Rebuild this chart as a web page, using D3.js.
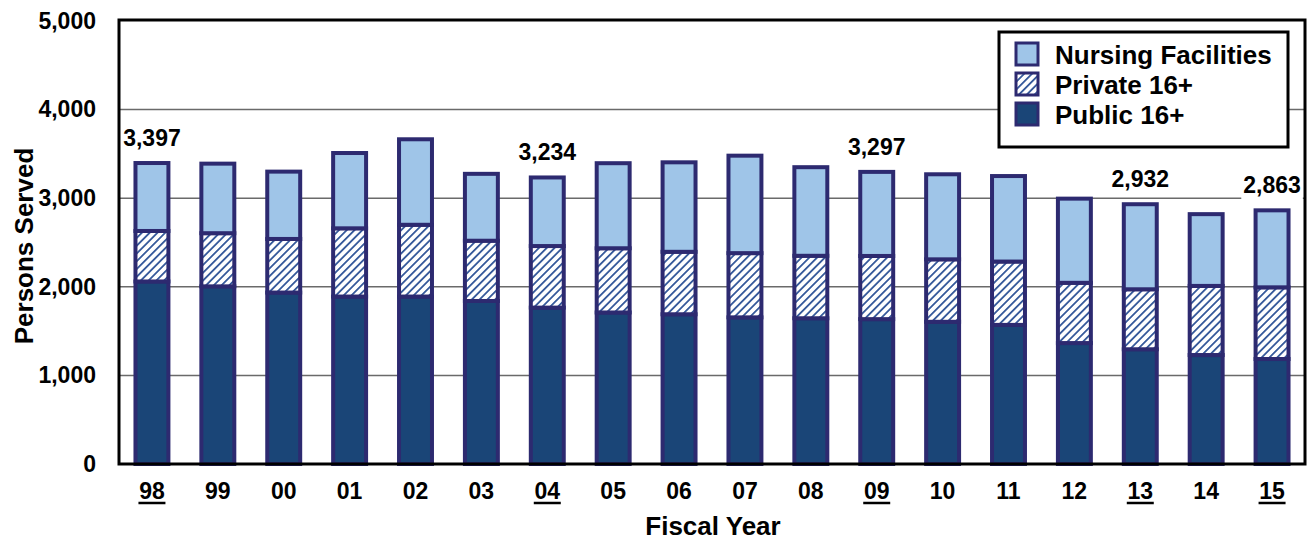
<!DOCTYPE html>
<html><head><meta charset="utf-8">
<script src="https://cdn.jsdelivr.net/npm/d3@7"></script>
<style>body{margin:0;background:#fff}svg{display:block;font-family:"Liberation Sans",Arial,sans-serif;font-weight:bold}</style>
</head><body><svg id="c" width="1310" height="540"></svg>
<script>
const years = ["98","99","00","01","02","03","04","05","06","07","08","09","10","11","12","13","14","15"];
const publicVals  = [2060,2005,1935,1890,1890,1840,1765,1710,1690,1655,1645,1635,1605,1570,1365,1295,1230,1185];
const privateVals = [570,600,605,770,810,680,695,725,705,725,705,713,705,715,680,677,780,809];
const nursingVals = [767,785,760,850,965,755,774,960,1010,1100,1000,949,960,965,950,960,810,869];
const labeledYears = ["98","04","09","13","15"];
const yTicks = [0,1000,2000,3000,4000,5000];
const seriesNames = ["Nursing Facilities","Private 16+","Public 16+"];

const svg = d3.select("#c");
const L=119, R=1305, T=21, B=464;
const x = d3.scaleBand().domain(years).range([L,R]).paddingInner(0.5).paddingOuter(0.25);
const y = d3.scaleLinear().domain([0,5000]).range([B,T]);

const navy="#2d2a70", darkFill="#1a4577", lightFill="#9fc5e8";
const defs = svg.append("defs");
const pat = defs.append("pattern").attr("id","hatch").attr("patternUnits","userSpaceOnUse")
  .attr("width",5.5).attr("height",5.5).attr("patternTransform","rotate(45)");
pat.append("rect").attr("width",5.5).attr("height",5.5).attr("fill","#fff");
pat.append("rect").attr("x",0).attr("y",0).attr("width",1.8).attr("height",5.5).attr("fill","#34589a");

// gridlines
svg.append("g").selectAll("line").data(yTicks.filter(d=>d>0&&d<5000)).join("line")
  .attr("x1",L).attr("x2",R).attr("y1",d=>y(d)).attr("y2",d=>y(d))
  .attr("stroke","#6a6a6a").attr("stroke-width",1.5);

// y axis labels
const yAxis = d3.axisLeft(y).tickValues(yTicks).tickFormat(d3.format(",")).tickSize(0).tickPadding(23);
const ga = svg.append("g").attr("transform",`translate(${L},0)`).call(yAxis);
ga.select(".domain").remove();
ga.selectAll("text").attr("font-size",23).attr("font-weight","bold").attr("fill","#000")
  .attr("font-family","Liberation Sans, Arial, sans-serif");

// stacked bars
const rows = years.map((yr,i)=>({year:yr, pub:publicVals[i], priv:privateVals[i], nurs:nursingVals[i]}));
const stack = d3.stack().keys(["pub","priv","nurs"])(rows);
const fills = {pub:darkFill, priv:"url(#hatch)", nurs:lightFill};
svg.append("g").selectAll("g").data(stack).join("g").attr("fill",d=>fills[d.key])
  .selectAll("rect").data(d=>d).join("rect")
  .attr("x",d=>x(d.data.year)).attr("width",x.bandwidth())
  .attr("y",d=>y(d[1])).attr("height",d=>y(d[0])-y(d[1]))
  .attr("stroke",navy).attr("stroke-width",4);

// frame
svg.append("rect").attr("x",L).attr("y",T-1).attr("width",R-L).attr("height",B-T+1)
  .attr("fill","none").attr("stroke","#000").attr("stroke-width",3);

// value labels
const lab = svg.append("g").selectAll("g").data(rows.filter(r=>labeledYears.includes(r.year))).join("g");
lab.each(function(r){
  const g=d3.select(this);
  const tot=r.pub+r.priv+r.nurs;
  const cx=x(r.year)+x.bandwidth()/2, by=y(tot)-17;
  const t=g.append("text").attr("x",cx).attr("y",by).attr("text-anchor","middle")
    .attr("font-size",23).attr("fill","#000").text(d3.format(",")(tot));
  const bb=t.node().getBBox();
  g.insert("rect","text").attr("x",bb.x-2).attr("y",bb.y).attr("width",bb.width+4).attr("height",bb.height+4).attr("fill","#fff");
});

// x labels
const xl = svg.append("g").selectAll("g").data(years).join("g");
xl.append("text").attr("x",d=>x(d)+x.bandwidth()/2).attr("y",499).attr("text-anchor","middle")
  .attr("font-size",23).attr("fill","#000").text(d=>d);
xl.filter(d=>labeledYears.includes(d)).append("line")
  .attr("x1",d=>x(d)+x.bandwidth()/2-13.5).attr("x2",d=>x(d)+x.bandwidth()/2+13.5)
  .attr("y1",503).attr("y2",503).attr("stroke","#000").attr("stroke-width",2.5);

// axis titles
svg.append("text").attr("x",713).attr("y",535).attr("text-anchor","middle").attr("font-size",26).text("Fiscal Year");
svg.append("text").attr("transform","translate(33,246) rotate(-90)").attr("text-anchor","middle").attr("font-size",26).text("Persons Served");

// legend
const lg = svg.append("g");
lg.append("rect").attr("x",999).attr("y",32).attr("width",289).attr("height",115).attr("fill","#fff").attr("stroke","#000").attr("stroke-width",3);
const legFills=[lightFill,"url(#hatch)",darkFill];
seriesNames.forEach((n,i)=>{
  lg.append("rect").attr("x",1016).attr("y",43+i*30).attr("width",22).attr("height",22)
    .attr("fill",legFills[i]).attr("stroke",navy).attr("stroke-width",3);
  lg.append("text").attr("x",1055).attr("y",64+i*30).attr("font-size",26).attr("fill","#000").text(n);
});
</script></body></html>
